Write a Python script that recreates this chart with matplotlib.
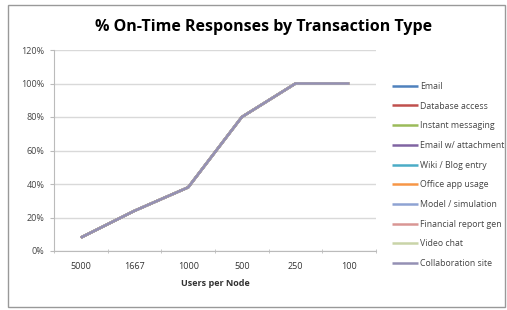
import numpy as np
import matplotlib.pyplot as plt
from matplotlib.patches import Rectangle

# %%
users = ["5000", "1667", "1000", "500", "250", "100"]
series_names = ["Email", "Database access", "Instant messaging", "Email w/ attachment",
                "Wiki / Blog entry", "Office app usage", "Model / simulation",
                "Financial report gen", "Video chat", "Collaboration site"]
colors = ["#4F81BD", "#C0504D", "#9BBB59", "#8064A2", "#4BACC6",
          "#F79646", "#8EA3D3", "#D99694", "#C9D4A8", "#9490B4"]
# all transaction types have the same on-time response values
on_time = [8, 24, 38, 80, 100, 100]

# %%
plt.rcParams["font.family"] = ["Open Sans", "DejaVu Sans"]
fig = plt.figure(figsize=(5.07, 3.10), dpi=100)
ax = fig.add_axes([54 / 507, 1 - 251 / 310, (376 - 54) / 507, (251 - 50) / 310])

x = np.arange(len(users))
for name, c in zip(series_names, colors):
    ax.plot(x, on_time, color=c, lw=1.8, label=name, solid_capstyle="butt")

ax.set_xlim(-0.5, len(users) - 0.5)
ax.set_ylim(0, 120)
ax.set_yticks(range(0, 121, 20))
ax.set_yticklabels([f"{v}%" for v in range(0, 121, 20)], fontsize=6.5, color="#444444")
ax.set_xticks(x)
ax.set_xticklabels(users, fontsize=6.5, color="#333333")
ax.set_xticks(np.arange(-0.5, len(users)), minor=True)
ax.tick_params(axis="x", which="major", length=0, pad=8)
ax.tick_params(axis="x", which="minor", length=3, color="#BBBBBB", direction="inout")
ax.tick_params(axis="y", length=3, color="#BBBBBB", direction="out", pad=4)
ax.grid(axis="y", color="#D9D9D9", lw=1)
ax.set_axisbelow(True)
for s in ["top", "right"]:
    ax.spines[s].set_visible(False)
for s in ["left", "bottom"]:
    ax.spines[s].set_color("#BBBBBB")
ax.set_xlabel("Users per Node", fontsize=6.5, fontweight="bold", color="#333333", labelpad=6)

fig.suptitle("% On-Time Responses by Transaction Type", fontsize=11.5, fontweight="bold",
             x=264 / 507, y=1 - 19 / 310, va="top")

ax.legend(loc="upper left", bbox_to_anchor=(384 / 507, 1 - 74 / 310), bbox_transform=fig.transFigure,
          frameon=False, fontsize=6.3, handlelength=3.0, handletextpad=0.25, labelspacing=1.22,
          labelcolor="#444444")

fig.patches.append(Rectangle((8 / 507, 3 / 310), 497 / 507, 302 / 310, transform=fig.transFigure,
                             fill=False, edgecolor="#999999", lw=1))

fig.savefig("out.png", dpi=100)
